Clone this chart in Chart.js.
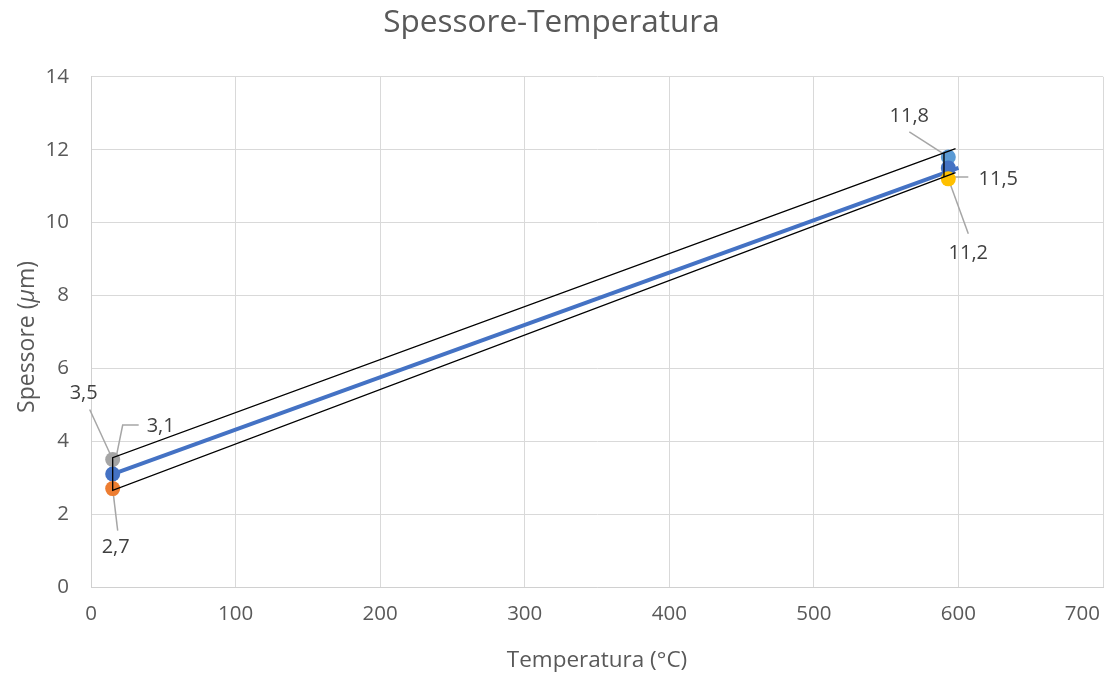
<!DOCTYPE html>
<html>
<head>
<meta charset="utf-8">
<title>Spessore-Temperatura</title>
<script src="https://cdn.jsdelivr.net/npm/chart.js@4.4.0/dist/chart.umd.min.js"></script>
<style>
  body { margin:0; background:#fff; }
  #wrap { width:1114px; height:675px; }
</style>
</head>
<body>
<div id="wrap"><canvas id="grafico" width="1114" height="675"></canvas></div>
<script>
// dati
var temperature = [15, 593];
var spessoreBlu = [3.1, 11.5];
var spessoreGrigio = [3.5, null];
var spessoreArancio = [2.7, null];
var spessoreAzzurro = [null, 11.8];
var spessoreGiallo = [null, 11.2];

// retta blu (fit)
var rettaX = [15, 600];
var rettaY = [3.1, 11.5];

// fascia nera (limiti sup/inf)
var fasciaX = [598, 15, 15, 598];
var fasciaY = [12.03, 3.55, 2.65, 11.37];
var barraDxX = [590, 590];
var barraDxY = [11.91, 11.25];

var ticksX = [0, 100, 200, 300, 400, 500, 600, 700];
var ticksY = [0, 2, 4, 6, 8, 10, 12, 14];

var grigioTesto = '#595959';
var font = '"Open Sans", sans-serif';

function punti(xs, ys){
  var out = [];
  xs.forEach(function(x, i){ if(ys[i] !== null) out.push({x:x, y:ys[i]}); });
  return out;
}

function serie(label, ys, colore, ordine){
  return { label:label, data:punti(temperature, ys), showLine:false,
    backgroundColor:colore, borderColor:colore, pointRadius:7.5, pointHoverRadius:7.5,
    pointBorderWidth:0, order:ordine };
}

// etichette con linee guida (offset in pixel rispetto al punto)
var etichette = [
  { ys:spessoreGrigio, i:0, dx:-29, dy:-66, guida:[[-23,-50]] },
  { ys:spessoreBlu, i:0, dx:48, dy:-48, guida:[[10,-49],[26,-49]] },
  { ys:spessoreArancio, i:0, dx:3, dy:59, guida:[[5,42]] },
  { ys:spessoreAzzurro, i:1, dx:-39, dy:-41, guida:[[-39,-25]] },
  { ys:spessoreBlu, i:1, dx:50, dy:11, guida:[[3,9],[20,9]] },
  { ys:spessoreGiallo, i:1, dx:20, dy:74, guida:[[20,55]] }
];

var pluginEtichette = {
  id:'etichette',
  beforeDatasetsDraw: function(chart){
    var ctx = chart.ctx, sx = chart.scales.x, sy = chart.scales.y;
    ctx.save();
    ctx.strokeStyle = '#A6A6A6';
    ctx.lineWidth = 1.5;
    etichette.forEach(function(e){
      var px = sx.getPixelForValue(temperature[e.i]);
      var py = sy.getPixelForValue(e.ys[e.i]);
      ctx.beginPath();
      ctx.moveTo(px, py);
      e.guida.forEach(function(g){ ctx.lineTo(px + g[0], py + g[1]); });
      ctx.stroke();
    });
    ctx.restore();
  },
  afterDatasetsDraw: function(chart){
    var ctx = chart.ctx, sx = chart.scales.x, sy = chart.scales.y;
    ctx.save();
    ctx.fillStyle = '#404040';
    ctx.font = '20px ' + font;
    ctx.textAlign = 'center';
    ctx.textBaseline = 'middle';
    etichette.forEach(function(e){
      var px = sx.getPixelForValue(temperature[e.i]);
      var py = sy.getPixelForValue(e.ys[e.i]);
      ctx.fillText(e.ys[e.i].toFixed(1).replace('.', ','), px + e.dx, py + e.dy);
    });
    ctx.restore();
  },
  afterDraw: function(chart){
    var ctx = chart.ctx, sx = chart.scales.x;
    // etichette asse x: l'ultima resta dentro il bordo come in Excel
    ctx.save();
    ctx.fillStyle = grigioTesto;
    ctx.font = '20.5px ' + font;
    ctx.textAlign = 'center';
    ctx.textBaseline = 'middle';
    ticksX.forEach(function(v){
      var t = String(v), w = ctx.measureText(t).width;
      var px = Math.min(sx.getPixelForValue(v), chart.width - 14 - w / 2);
      ctx.fillText(t, px, sx.top + 27);
    });
    ctx.restore();

    // titolo asse y con mu in corsivo
    var parti = [['Spessore (', 'normal'], ['μ', 'italic'], ['m)', 'normal']];
    ctx.save();
    ctx.fillStyle = grigioTesto;
    ctx.textBaseline = 'middle';
    ctx.textAlign = 'left';
    var tot = 0;
    parti.forEach(function(p){ ctx.font = p[1] + ' 23px ' + font; tot += ctx.measureText(p[0]).width; });
    ctx.translate(27, 337);
    ctx.rotate(-Math.PI / 2);
    var x = -tot / 2;
    parti.forEach(function(p){
      ctx.font = p[1] + ' 23px ' + font;
      ctx.fillText(p[0], x, 0);
      x += ctx.measureText(p[0]).width;
    });
    ctx.restore();
  }
};

new Chart(document.getElementById('grafico').getContext('2d'), {
  type:'scatter',
  data:{
    datasets:[
      { label:'fascia', data:punti(fasciaX, fasciaY), showLine:true, borderColor:'#000', borderWidth:1.3,
        pointRadius:0, fill:false, order:0 },
      { label:'barra', data:punti(barraDxX, barraDxY), showLine:true, borderColor:'#000', borderWidth:1.3,
        pointRadius:0, fill:false, order:1 },
      serie('2,7', spessoreArancio, '#ED7D31', 2),
      serie('11,2', spessoreGiallo, '#FFC000', 3),
      serie('3,1', spessoreBlu, '#4472C4', 4),
      serie('3,5', spessoreGrigio, '#A5A5A5', 5),
      serie('11,8', spessoreAzzurro, '#5B9BD5', 6),
      { label:'retta', data:punti(rettaX, rettaY), showLine:true, borderColor:'#4472C4', borderWidth:4,
        pointRadius:0, fill:false, order:7 }
    ]
  },
  options:{
    responsive:false,
    animation:false,
    layout:{ padding:{ left:0, right:11, top:0, bottom:0 } },
    plugins:{
      legend:{ display:false },
      tooltip:{ enabled:false },
      title:{ display:true, text:'Spessore-Temperatura', color:grigioTesto,
        font:{ family:font, size:31.5, weight:'normal' }, padding:{ top:4, bottom:35 } }
    },
    scales:{
      x:{
        type:'linear', min:0, max:700,
        afterBuildTicks: function(s){ s.ticks = ticksX.map(function(v){ return {value:v}; }); },
        afterFit: function(s){ s.height = 88; s.paddingRight = 0; s.paddingLeft = 0; },
        grid:{ color:'#D9D9D9', lineWidth:1, drawTicks:false },
        border:{ color:'#D0D0D0', width:1 },
        ticks:{ display:false },
        title:{ display:true, text:'Temperatura (°C)', color:grigioTesto,
          font:{ family:font, size:22.5 }, padding:{ top:0, bottom:1 } }
      },
      y:{
        type:'linear', min:0, max:14,
        afterBuildTicks: function(s){ s.ticks = ticksY.map(function(v){ return {value:v}; }); },
        afterFit: function(s){ s.width = 91; },
        grid:{ color:'#D9D9D9', lineWidth:1, drawTicks:false },
        border:{ color:'#D0D0D0', width:1 },
        ticks:{ color:grigioTesto, font:{ family:font, size:20.5 }, padding:22 },
        title:{ display:false }
      }
    }
  },
  plugins:[pluginEtichette]
});
</script>
</body>
</html>
